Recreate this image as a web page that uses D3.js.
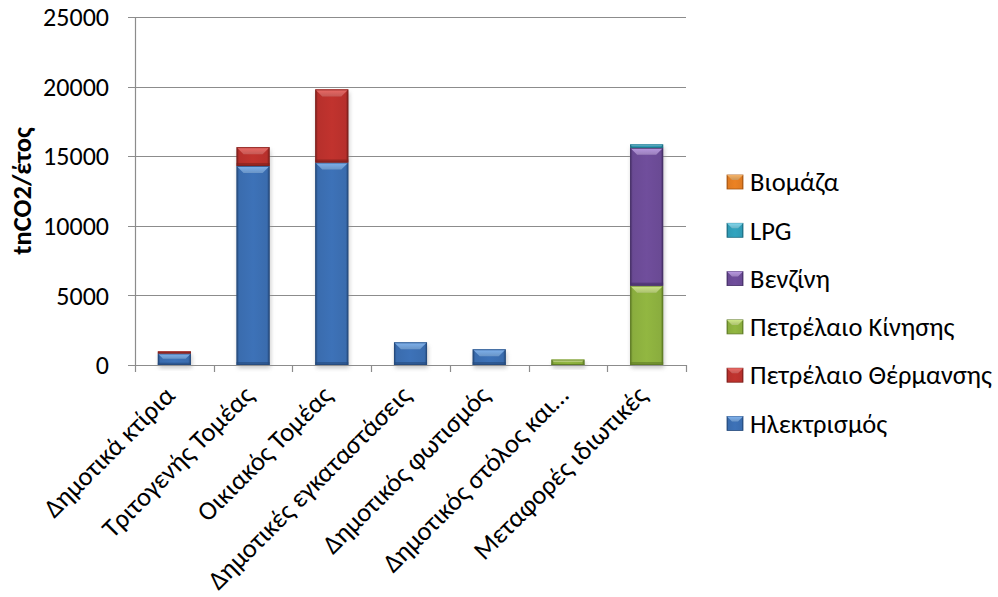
<!DOCTYPE html>
<html>
<head>
<meta charset="utf-8">
<script src="https://cdn.jsdelivr.net/npm/d3@7"></script>
<style>
  html, body { margin: 0; padding: 0; background: #fff; }
  svg { display: block; }
  text { font-family: Carlito, "Open Sans", sans-serif; fill: #000; }
</style>
</head>
<body>
<svg id="chart" width="998" height="597"></svg>
<script>
// Sectors (x categories)
const categories = [
  "Δημοτικά κτίρια",
  "Τριτογενής Τομέας",
  "Οικιακός Τομέας",
  "Δημοτικές εγκαταστάσεις",
  "Δημοτικός φωτισμός",
  "Δημοτικός στόλος και…",
  "Μεταφορές ιδιωτικές"
];

// Emissions per energy source, tnCO2/έτος
const electricity = [830, 14300, 14550, 1630, 1130, 0, 0];
const heatingOil  = [150, 1350, 5250, 0, 0, 0, 0];
const dieselOil   = [0, 0, 0, 0, 0, 390, 5700];
const petrol      = [0, 0, 0, 0, 0, 0, 9900];
const lpg         = [0, 0, 0, 0, 0, 0, 250];
const biomass     = [0, 0, 0, 0, 0, 0, 0];

const seriesNames = ["Ηλεκτρισμός", "Πετρέλαιο Θέρμανσης", "Πετρέλαιο Κίνησης", "Βενζίνη", "LPG", "Βιομάζα"];
const seriesValues = [electricity, heatingOil, dieselOil, petrol, lpg, biomass];

const yTicks = [0, 5000, 10000, 15000, 20000, 25000];
const yTitle = "tnCO2/έτος";

// Palette: base, dark edge, light bevel
const palette = [
  { base: "#3a6cae", dark: "#254a7c", light: "#7fb2ee" },
  { base: "#b7302c", dark: "#7d1f1c", light: "#ec6a66" },
  { base: "#8aad3e", dark: "#5e7a25", light: "#cfe888" },
  { base: "#6a4a94", dark: "#452f66", light: "#b898e0" },
  { base: "#2f9bb5", dark: "#1d6b80", light: "#7fd6ec" },
  { base: "#e07b22", dark: "#a55512", light: "#f5b267" }
];

const svg = d3.select("#chart");

const plot = { left: 135, right: 686, top: 17, bottom: 365 };

const x = d3.scaleBand().domain(categories).range([plot.left, plot.right]).padding(0);
const y = d3.scaleLinear().domain([0, 25000]).range([plot.bottom, plot.top]);
const barW = x.bandwidth() * 0.42;

const defs = svg.append("defs");
palette.forEach((p, i) => {
  const g = defs.append("linearGradient").attr("id", "grad" + i)
    .attr("x1", 0).attr("x2", 1).attr("y1", 0).attr("y2", 0);
  g.append("stop").attr("offset", "0%").attr("stop-color", p.dark);
  g.append("stop").attr("offset", "8%").attr("stop-color", p.base);
  g.append("stop").attr("offset", "50%").attr("stop-color", d3.color(p.base).brighter(0.15));
  g.append("stop").attr("offset", "92%").attr("stop-color", p.base);
  g.append("stop").attr("offset", "100%").attr("stop-color", p.dark);
  const t = defs.append("linearGradient").attr("id", "bevel" + i)
    .attr("x1", 0).attr("x2", 0).attr("y1", 0).attr("y2", 1);
  t.append("stop").attr("offset", "0%").attr("stop-color", p.light);
  t.append("stop").attr("offset", "100%").attr("stop-color", d3.color(p.light).darker(0.5));
});
const blur = defs.append("filter").attr("id", "shadow")
  .attr("x", "-20%").attr("y", "-20%").attr("width", "140%").attr("height", "140%");
blur.append("feGaussianBlur").attr("stdDeviation", 2);

// Gridlines
svg.append("g").selectAll("line").data(yTicks).join("line")
  .attr("x1", plot.left - 7).attr("x2", plot.right)
  .attr("y1", d => Math.round(y(d)) + 0.5).attr("y2", d => Math.round(y(d)) + 0.5)
  .attr("stroke", "#8c8c8c").attr("stroke-width", 1.2);

// Y axis line
svg.append("line")
  .attr("x1", plot.left + 0.5).attr("x2", plot.left + 0.5)
  .attr("y1", plot.top).attr("y2", plot.bottom)
  .attr("stroke", "#8c8c8c").attr("stroke-width", 1.2);

// X axis tick marks at category boundaries
const boundaries = categories.map(c => x(c)).concat([plot.right]);
svg.append("g").selectAll("line").data(boundaries).join("line")
  .attr("x1", d => Math.round(d) + 0.5).attr("x2", d => Math.round(d) + 0.5)
  .attr("y1", plot.bottom).attr("y2", plot.bottom + 7)
  .attr("stroke", "#8c8c8c").attr("stroke-width", 1.2);

// Y tick labels
svg.append("g").selectAll("text").data(yTicks).join("text")
  .attr("x", 109).attr("y", d => y(d)).attr("dy", "0.35em")
  .attr("text-anchor", "end").style("font-size", "26px")
  .text(d => d);

// Y title
svg.append("text")
  .attr("transform", `translate(22,${(plot.top + plot.bottom) / 2}) rotate(-90)`)
  .attr("text-anchor", "middle").attr("dy", "0.35em")
  .style("font-size", "26.5px").style("font-weight", "bold")
  .text(yTitle);

// Stacked bars
const rows = categories.map((c, i) => {
  const r = { cat: c };
  seriesNames.forEach((s, k) => r[s] = seriesValues[k][i]);
  return r;
});
const stacked = d3.stack().keys(seriesNames)(rows);

const barsG = svg.append("g");
// soft shadow under each stack
barsG.append("g").selectAll("rect").data(rows).join("rect")
  .attr("x", d => x(d.cat) + (x.bandwidth() - barW) / 2 + 1)
  .attr("width", barW)
  .attr("y", d => y(d3.sum(seriesNames, s => d[s])) + 3)
  .attr("height", d => Math.max(0, plot.bottom - y(d3.sum(seriesNames, s => d[s]))))
  .attr("fill", "#9a9a9a").attr("opacity", 0.55).attr("filter", "url(#shadow)")
  .attr("display", d => d3.sum(seriesNames, s => d[s]) > 0 ? null : "none");

stacked.forEach((layer, k) => {
  const p = palette[k];
  const g = barsG.append("g");
  layer.forEach((seg, i) => {
    const v = seg[1] - seg[0];
    if (v <= 0) return;
    const x0 = x(categories[i]) + (x.bandwidth() - barW) / 2;
    const x1 = x0 + barW;
    const yt = y(seg[1]);
    const yb = y(seg[0]);
    const h = yb - yt;
    g.append("rect").attr("x", x0).attr("y", yt).attr("width", barW).attr("height", h)
      .attr("fill", `url(#grad${k})`);
    // top bevel
    const b = Math.min(7, h * 0.45);
    g.append("path")
      .attr("d", `M${x0},${yt} L${x1},${yt} L${x1 - b},${yt + b} L${x0 + b},${yt + b} Z`)
      .attr("fill", `url(#bevel${k})`);
    // bottom shade
    const bb = Math.min(3, h * 0.2);
    g.append("rect").attr("x", x0).attr("y", yb - bb).attr("width", barW).attr("height", bb)
      .attr("fill", p.dark).attr("opacity", 0.6);
    g.append("rect").attr("x", x0 + 0.5).attr("y", yt + 0.5).attr("width", barW - 1).attr("height", Math.max(0, h - 1))
      .attr("fill", "none").attr("stroke", p.dark).attr("stroke-width", 1).attr("opacity", 0.8);
  });
});

// X labels, rotated; baseline ends just under each category centre
svg.append("g").selectAll("text").data(categories).join("text")
  .attr("transform", d => `translate(${x(d) + x.bandwidth() / 2 + 2},${plot.bottom + 32}) rotate(-45)`)
  .attr("text-anchor", "end").style("font-size", "26.5px")
  .text(d => d);

// Legend (reverse order)
const legendItems = seriesNames.map((s, k) => ({ name: s, k })).reverse();
const lg = svg.append("g").selectAll("g").data(legendItems).join("g")
  .attr("transform", (d, i) => `translate(727,${182 + i * 48.3})`);
lg.append("rect").attr("x", 0).attr("y", -7).attr("width", 16).attr("height", 14)
  .attr("fill", d => `url(#grad${d.k})`).attr("stroke", d => palette[d.k].dark).attr("stroke-width", 0.8);
lg.append("path").attr("d", "M0,-7 L16,-7 L11,-2 L5,-2 Z").attr("fill", d => `url(#bevel${d.k})`);
lg.append("text").attr("x", 23).attr("dy", "0.35em").style("font-size", "26.5px").text(d => d.name);
</script>
</body>
</html>
